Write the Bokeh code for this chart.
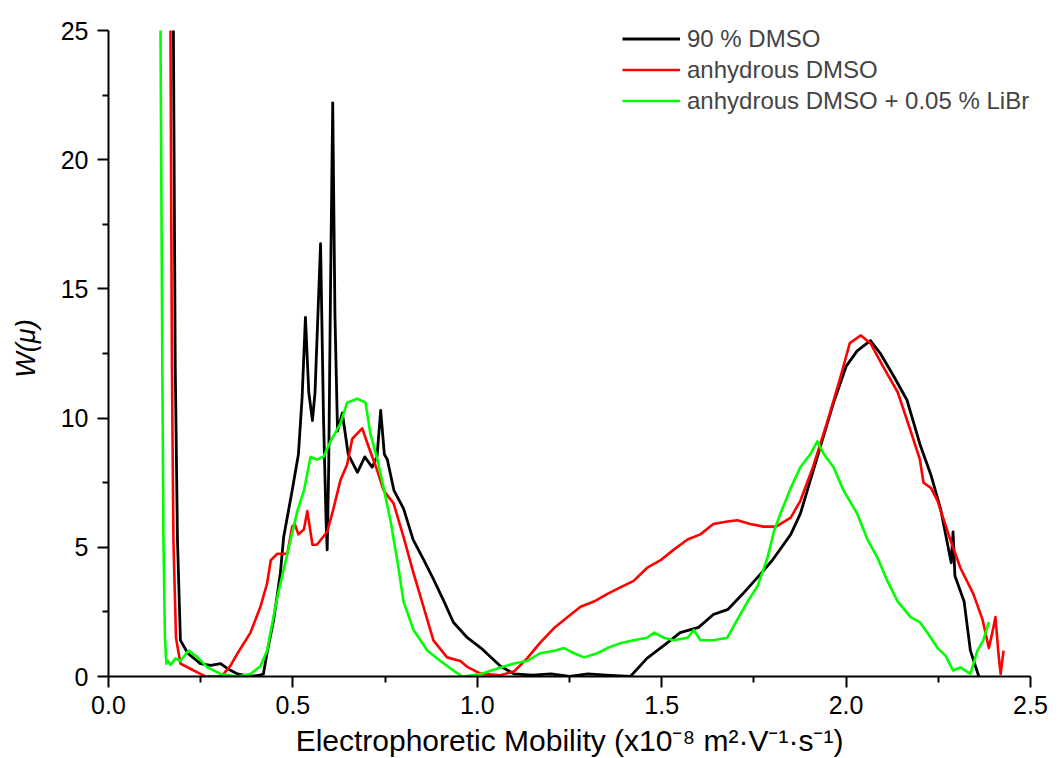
from bokeh.plotting import figure
from bokeh.models import Range1d, FixedTicker, PrintfTickFormatter, Legend, LegendItem
from bokeh.embed import file_html
from bokeh.resources import INLINE

# ---- data ----
black_x = [0.176, 0.181, 0.187, 0.195, 0.215, 0.249, 0.277, 0.304, 0.323, 0.35, 0.385, 0.41, 0.42,
           0.431, 0.448, 0.466, 0.475, 0.498, 0.515, 0.525, 0.534, 0.543, 0.553, 0.56, 0.575, 0.583,
           0.59, 0.593, 0.597, 0.602, 0.608, 0.614, 0.621, 0.634, 0.65, 0.675, 0.695, 0.715, 0.728,
           0.738, 0.748, 0.756, 0.774, 0.80, 0.826, 0.855, 0.88, 0.91, 0.935, 0.973, 1.01, 1.063,
           1.1, 1.15, 1.2, 1.25, 1.3, 1.35, 1.415, 1.46, 1.515, 1.55, 1.6, 1.64, 1.68, 1.72, 1.77,
           1.80, 1.85, 1.876, 1.92, 1.966, 2.0, 2.03, 2.066, 2.093, 2.13, 2.165, 2.2, 2.23, 2.256,
           2.285, 2.29, 2.295, 2.32, 2.337, 2.36]
black_y = [25, 12, 5.3, 1.4, 0.9, 0.5, 0.43, 0.5, 0.3, 0.1, 0.0, 0.05, 0.1,
           1.0, 2.2, 4.0, 5.4, 7.2, 8.6, 10.8, 13.9, 11.0, 9.9, 11.0, 16.75, 10.0,
           6.0, 4.9, 8.0, 15.0, 22.2, 14.0, 9.5, 10.2, 8.6, 7.9, 8.5, 8.1, 8.5,
           10.3, 8.6, 8.4, 7.2, 6.5, 5.3, 4.5, 3.8, 2.9, 2.1, 1.5, 1.1, 0.4,
           0.1, 0.05, 0.1, 0.0, 0.1, 0.05, 0.0, 0.7, 1.3, 1.7, 1.9, 2.4, 2.6, 3.2, 4.0,
           4.5, 5.5, 6.3, 8.4, 10.6, 12.0, 12.6, 13.0, 12.5, 11.6, 10.7, 9.0, 7.8, 6.5,
           4.4, 5.6, 3.9, 2.9, 1.0, 0.0]

red_x = [0.168, 0.172, 0.176, 0.183, 0.195, 0.222, 0.249, 0.263, 0.30, 0.312, 0.33, 0.35, 0.385,
         0.412, 0.43, 0.44, 0.458, 0.485, 0.498, 0.505, 0.515, 0.53, 0.539, 0.553, 0.565, 0.593,
         0.61, 0.629, 0.647, 0.661, 0.688, 0.705, 0.728, 0.746, 0.773, 0.80, 0.827, 0.854, 0.881,
         0.918, 0.954, 0.975, 1.01, 1.063, 1.1, 1.135, 1.17, 1.21, 1.245, 1.28, 1.316, 1.353,
         1.388, 1.424, 1.46, 1.497, 1.532, 1.57, 1.605, 1.64, 1.678, 1.705, 1.74, 1.776, 1.81,
         1.85, 1.876, 1.91, 1.95, 1.985, 2.01, 2.04, 2.066, 2.1, 2.14, 2.175, 2.2, 2.21, 2.23,
         2.248, 2.28, 2.31, 2.345, 2.37, 2.387, 2.395, 2.405, 2.413, 2.419, 2.427]
red_y = [25, 12, 5.3, 1.5, 0.5, 0.3, 0.1, 0.0, 0.0, 0.1, 0.4, 0.9, 1.7,
         2.7, 3.6, 4.5, 4.75, 4.75, 5.8, 5.9, 5.5, 5.7, 6.4, 5.1, 5.1, 5.6,
         6.5, 7.6, 8.2, 9.2, 9.6, 8.9, 8.0, 7.2, 6.7, 5.4, 4.0, 2.7, 1.4,
         0.74, 0.6, 0.35, 0.1, 0.05, 0.2, 0.7, 1.3, 1.9, 2.3, 2.7, 2.9, 3.2,
         3.45, 3.7, 4.2, 4.5, 4.9, 5.3, 5.5, 5.9, 6.0, 6.05, 5.9, 5.8, 5.8,
         6.15, 6.8, 8.1, 9.9, 11.6, 12.9, 13.2, 12.9, 12.0, 11.0, 9.5, 8.4, 7.5, 7.3,
         6.8, 5.4, 4.2, 3.2, 2.2, 1.1, 1.6, 2.3, 0.9, 0.1, 1.0]

green_x = [0.141, 0.146, 0.149, 0.153, 0.157, 0.162, 0.168, 0.182, 0.195, 0.217, 0.241, 0.268,
           0.304, 0.35, 0.385, 0.412, 0.43, 0.458, 0.485, 0.512, 0.53, 0.548, 0.565, 0.583, 0.602,
           0.629, 0.647, 0.675, 0.697, 0.71, 0.729, 0.746, 0.765, 0.783, 0.80, 0.827, 0.865, 0.90,
           0.935, 0.96, 1.01, 1.063, 1.1, 1.135, 1.17, 1.21, 1.235, 1.262, 1.29, 1.325, 1.353,
           1.39, 1.424, 1.46, 1.48, 1.505, 1.533, 1.57, 1.587, 1.605, 1.64, 1.678, 1.705, 1.733,
           1.76, 1.787, 1.805, 1.822, 1.85, 1.876, 1.903, 1.922, 1.94, 1.966, 1.993, 2.03, 2.058,
           2.085, 2.112, 2.14, 2.175, 2.2, 2.22, 2.248, 2.27, 2.29, 2.31, 2.337, 2.356, 2.372, 2.387]
green_y = [25, 12, 5.3, 1.5, 0.5, 0.6, 0.45, 0.7, 0.6, 1.0, 0.75, 0.35,
           0.1, 0.0, 0.1, 0.4, 1.0, 3.1, 4.75, 6.4, 7.2, 8.5, 8.4, 8.5, 9.1,
           9.8, 10.6, 10.75, 10.6, 9.4, 8.4, 7.3, 6.0, 4.5, 2.9, 1.8, 1.0, 0.6,
           0.23, 0.0, 0.1, 0.35, 0.5, 0.6, 0.9, 1.0, 1.1, 0.9, 0.74, 0.9, 1.1,
           1.3, 1.4, 1.5, 1.7, 1.5, 1.4, 1.5, 1.8, 1.4, 1.4, 1.5, 2.2, 2.9,
           3.5, 4.6, 5.65, 6.3, 7.3, 8.1, 8.6, 9.1, 8.6, 8.1, 7.2, 6.3, 5.3,
           4.6, 3.7, 2.9, 2.3, 2.1, 1.7, 1.1, 0.8, 0.23, 0.35, 0.1, 1.0, 1.4, 2.1]

series_names = ["90 % DMSO", "anhydrous DMSO", "anhydrous DMSO + 0.05 % LiBr"]
series_colors = ["#000000", "#ff0000", "#00ff00"]

x_major = [0.0, 0.5, 1.0, 1.5, 2.0, 2.5]
x_minor = [0.25, 0.75, 1.25, 1.75, 2.25]
y_major = [0, 5, 10, 15, 20, 25]
y_minor = [2.5, 7.5, 12.5, 17.5, 22.5]

FONT = "Liberation Sans"

# frame is 10 px taller than the 0..25 axis so that the legend (which sits
# partly above the 25 tick in the reference) is not clipped
p = figure(frame_width=922, frame_height=656,
           min_border_left=108, min_border_right=30, min_border_top=20, min_border_bottom=82,
           x_range=Range1d(0, 2.5), y_range=Range1d(0, 25 * 656 / 646),
           output_backend="svg", toolbar_location=None)
p.outline_line_color = None
p.xgrid.visible = False
p.ygrid.visible = False
p.background_fill_color = "white"
p.border_fill_color = "white"

renderers = []
for xs, ys, c, w in [(black_x, black_y, series_colors[0], 2.8),
                     (red_x, red_y, series_colors[1], 2.6),
                     (green_x, green_y, series_colors[2], 2.6)]:
    r = p.line(xs, ys, line_color=c, line_width=w, line_join="round")
    renderers.append(r)

for ax, maj, mnr in [(p.xaxis[0], x_major, x_minor), (p.yaxis[0], y_major, y_minor)]:
    ax.ticker = FixedTicker(ticks=maj, minor_ticks=mnr)
    ax.axis_line_width = 2
    ax.major_tick_line_width = 2
    ax.minor_tick_line_width = 2
    ax.major_tick_out = 11
    ax.major_tick_in = 0
    ax.minor_tick_out = 6
    ax.minor_tick_in = 0
    ax.major_label_text_font = FONT
    ax.major_label_text_font_size = "25px"
    ax.major_label_text_color = "black"
    ax.axis_label_text_font = FONT
    ax.axis_label_text_color = "black"

p.yaxis[0].bounds = (0, 25)
p.xaxis[0].formatter = PrintfTickFormatter(format="%.1f")
p.xaxis[0].major_label_standoff = 8
p.xaxis[0].axis_label = "Electrophoretic Mobility (x10⁻⁸ m²·V⁻¹·s⁻¹)"
p.xaxis[0].axis_label_text_font_size = "30px"
p.xaxis[0].axis_label_text_font_style = "normal"
p.xaxis[0].axis_label_standoff = 7
p.yaxis[0].major_label_standoff = 9
p.yaxis[0].axis_label = "W(μ)"
p.yaxis[0].axis_label_text_font_size = "27px"
p.yaxis[0].axis_label_text_font_style = "italic"
p.yaxis[0].axis_label_standoff = 17

legend = Legend(items=[LegendItem(label=n, renderers=[r]) for n, r in zip(series_names, renderers)],
                location=(514, 560), glyph_width=58, glyph_height=31, label_standoff=7,
                spacing=0, padding=0, margin=0, border_line_color=None,
                background_fill_alpha=0, label_text_font=FONT, label_text_font_size="24px",
                label_height=31)
p.add_layout(legend, "center")

open("out.html", "w").write(file_html(p, INLINE))
